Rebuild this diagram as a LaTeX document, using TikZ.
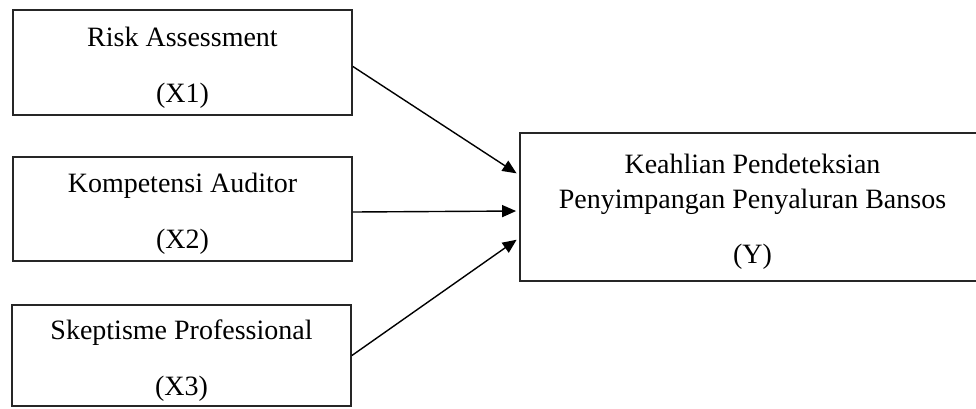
\documentclass[tikz,border=0pt]{standalone}
\usepackage{fontspec}
\setmainfont{Liberation Serif}
\usetikzlibrary{arrows.meta}
\newcommand{\toppad}{\rule{0pt}{14.6pt}}

\begin{document}
\begin{tikzpicture}[x=0.5pt, y=-0.5pt,
  varbox/.style={draw=black!85, line width=0.9pt, minimum width=169.5pt, align=center, inner sep=0pt, font=\fontsize{14}{17}\selectfont},
  link/.style={-{Triangle[length=7pt,width=6pt]}, line width=0.7pt, shorten >=1.5pt}]
\useasboundingbox (0,0) rectangle (976,408);
\node[varbox, minimum height=52.5pt] (x1) at (182.5,62.5) {\toppad Risk Assessment\\[11pt](X1)};
\node[varbox, minimum height=52pt] (x2) at (182.5,209) {\toppad Kompetensi Auditor\\[11pt](X2)};
\node[varbox, minimum height=50.5pt] (x3) at (181.5,355.5) {\toppad Skeptisme Professional\\[11pt](X3)};
\node[varbox, minimum width=232.5pt, minimum height=74pt, font=\fontsize{14}{17.5}\selectfont] (y) at (752.5,207) {\toppad Keahlian Pendeteksian\\Penyimpangan Penyaluran Bansos\\[10pt](Y)};
\coordinate (y1) at ([yshift=16pt]y.west);
\coordinate (y2) at ([yshift=-2pt]y.west);
\coordinate (y3) at ([yshift=-15.5pt]y.west);
\draw[link] ([yshift=-2pt]x1.east) -- (y1);
\draw[link] ([yshift=-1.5pt]x2.east) -- (y2);
\draw[link] (x3.east) -- (y3);
\end{tikzpicture}
\end{document}
